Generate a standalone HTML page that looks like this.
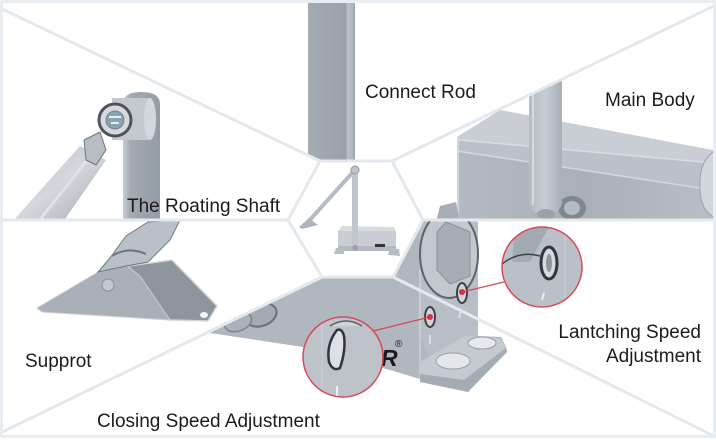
<!DOCTYPE html>
<html>
<head>
<meta charset="utf-8">
<style>
  html,body{margin:0;padding:0;background:#fff;}
  svg{display:block;}
  text{font-family:"Liberation Sans","Helvetica Neue",Arial,sans-serif;}
</style>
</head>
<body>
<svg width="716" height="440" viewBox="0 0 716 440" xmlns="http://www.w3.org/2000/svg">
  <defs>
    <clipPath id="cTL"><polygon points="0,8 320,161 288,220 0,220"/></clipPath>
    <clipPath id="cTop"><polygon points="0,0 716,0 716,5 392,161 320,161 0,8"/></clipPath>
    <clipPath id="cTR"><polygon points="716,5 716,220 423,220 392,161"/></clipPath>
    <clipPath id="cBRB">
      <polygon points="716,220 716,437 393,277 423,220"/>
      <polygon points="0,440 716,440 716,437 393,277 322,277 0,433"/>
    </clipPath>
    <clipPath id="cBL"><polygon points="0,220 288,220 322,277 0,433"/></clipPath>
    <clipPath id="cHex"><polygon points="320,161 392,161 423,220 393,277 322,277 288,220"/></clipPath>
    <clipPath id="cC1"><circle cx="343" cy="357" r="40"/></clipPath>
    <clipPath id="cC2"><circle cx="542" cy="267" r="40"/></clipPath>

    <linearGradient id="gArm" x1="0" y1="0" x2="1" y2="0">
      <stop offset="0" stop-color="#c9ced4"/>
      <stop offset="0.2" stop-color="#a3aab2"/>
      <stop offset="1" stop-color="#959ca5"/>
    </linearGradient>
    <linearGradient id="gRod" x1="0" y1="0" x2="1" y2="1">
      <stop offset="0" stop-color="#b9bfc6"/>
      <stop offset="0.5" stop-color="#d4d8dd"/>
      <stop offset="1" stop-color="#a2a9b1"/>
    </linearGradient>
    <linearGradient id="gBar" x1="0" y1="0" x2="1" y2="0">
      <stop offset="0" stop-color="#a4abb3"/>
      <stop offset="0.8" stop-color="#9aa1a9"/>
      <stop offset="0.85" stop-color="#bcc2c8"/>
      <stop offset="0.95" stop-color="#aeb4bb"/>
      <stop offset="1" stop-color="#9aa1a9"/>
    </linearGradient>
    <linearGradient id="gFront" x1="0" y1="0" x2="1" y2="0">
      <stop offset="0" stop-color="#b3bac1"/>
      <stop offset="0.5" stop-color="#a9b0b8"/>
      <stop offset="1" stop-color="#b8bec5"/>
    </linearGradient>
    <linearGradient id="gMainRod" x1="0" y1="0" x2="1" y2="0">
      <stop offset="0" stop-color="#b4bbc2"/>
      <stop offset="0.5" stop-color="#c6ccd2"/>
      <stop offset="1" stop-color="#a8afb7"/>
    </linearGradient>
  </defs>

  <rect width="716" height="440" fill="#ffffff"/>

  <!-- ===== Top-left: Rotating shaft ===== -->
  <g clip-path="url(#cTL)">
    <!-- vertical arm -->
    <path d="M123,104 Q123,92 141,92 Q160,92 160,104 L160,222 L123,222 Z" fill="url(#gArm)"/>
    <!-- cylinder -->
    <rect x="112" y="98" width="38" height="42" fill="#c3c9cf"/>
    <ellipse cx="150" cy="119" rx="6" ry="21" fill="#d3d8dc"/>
    <!-- rod -->
    <polygon points="80,146 106,160 63,222 12,222" fill="url(#gRod)"/>
    <line x1="92" y1="154" x2="38" y2="222" stroke="#dfe3e7" stroke-width="3"/>
    <!-- clip pieces -->
    <polygon points="84,140 100,132 106,150 96,165 86,160" fill="#b7bdc3" stroke="#6f767d" stroke-width="1"/>
    <!-- knuckle ring -->
    <circle cx="115" cy="120" r="16" fill="#d6dadf" stroke="#4e545a" stroke-width="3"/>
    <circle cx="115" cy="120" r="9" fill="#89a3b3" stroke="#7a8288" stroke-width="1"/>
    <path d="M109,117 L121,117 M111,123 L119,123" stroke="#e8eef2" stroke-width="2"/>
  </g>

  <!-- ===== Top: Connect Rod ===== -->
  <g clip-path="url(#cTop)">
    <rect x="308" y="0" width="47" height="160" fill="url(#gBar)"/>
  </g>

  <!-- ===== Top-right: Main Body ===== -->
  <g clip-path="url(#cTR)">
    <!-- top face -->
    <polygon points="457,137 500,110 713,150 713,163 460,140" fill="#c8ced4"/>
    <!-- chamfer band -->
    <polygon points="457,140 713,163 713,190 457,151" fill="#bac1c8"/>
    <!-- front face -->
    <polygon points="457,151 713,190 713,222 457,222" fill="url(#gFront)"/>
    <line x1="457" y1="151" x2="713" y2="190" stroke="#d3d8dd" stroke-width="1.5"/>
    <line x1="460" y1="140" x2="713" y2="163" stroke="#d8dde1" stroke-width="1.5"/>
    <!-- left edge -->
    <line x1="458" y1="138" x2="458" y2="220" stroke="#d0d5da" stroke-width="2"/>
    <!-- end cap -->
    <path d="M716,150 Q698,160 700,190 Q701,212 716,218 Z" fill="#d2d7db" stroke="#9aa1a8" stroke-width="1"/>
    <!-- bracket bits -->
    <polygon points="440,206 456,202 460,222 436,222" fill="#a7aeb5"/>
    <!-- washer -->
    <ellipse cx="572" cy="208" rx="14" ry="12" fill="#7f878f"/>
    <ellipse cx="572" cy="208" rx="8" ry="7" fill="#b5bcc3"/>
    <!-- connect rod on body -->
    <path d="M529,70 L562,70 L562,203 Q560,214 546,215 Q530,214 529,203 Z" fill="url(#gMainRod)"/>
    <line x1="533" y1="80" x2="533" y2="205" stroke="#d5dade" stroke-width="2"/>
    <ellipse cx="546" cy="214" rx="9" ry="5" fill="#9aa1a8"/>
  </g>

  <!-- ===== Bottom + Bottom-right: body end ===== -->
  <g clip-path="url(#cBRB)">
    <!-- main gray mass -->
    <polygon points="150,320 322,250 420,200 478,200 478,336 501,337 507,349 468,392 420,379 390,370 303,347 210,333" fill="#b0b7bf"/>
    <!-- upper plate region (right) -->
    <polygon points="420,200 478,200 478,336 430,360 418,330" fill="#b7bec5"/>
    <!-- face edge -->
    <line x1="420" y1="270" x2="420" y2="378" stroke="#cdd2d7" stroke-width="1.5"/>
    <!-- big oval ring + hex -->
    <ellipse cx="449" cy="254" rx="29" ry="44" fill="#c2c8ce" stroke="#5d646b" stroke-width="2"/>
    <polygon points="446,222 470,232 470,276 450,284 437,270 437,232" fill="#a6adb5" stroke="#8a9299" stroke-width="1"/>
    <!-- lens ring left -->
    <ellipse cx="261" cy="315" rx="16" ry="11" fill="#a3aab2" stroke="#6a7178" stroke-width="2" transform="rotate(-20 261 315)"/>
    <ellipse cx="238" cy="322" rx="14" ry="9" fill="#aab1b8" stroke="#7e858c" stroke-width="1.5" transform="rotate(-20 238 322)"/>
    <!-- foot -->
    <polygon points="420,362 465,336 500,338 506,348 464,380 420,374" fill="#c4cad0"/>
    <polygon points="420,374 464,380 506,348 507,352 468,392 420,382" fill="#a4abb3"/>
    <ellipse cx="482" cy="343" rx="14" ry="6" fill="#e6e9ec" stroke="#979ea5" stroke-width="1"/>
    <ellipse cx="453" cy="361" rx="17" ry="8" fill="#e3e7ea" stroke="#979ea5" stroke-width="1"/>
    <!-- slots -->
    <ellipse cx="462" cy="293" rx="5" ry="10" fill="#d0d5d9" stroke="#3c4248" stroke-width="2"/>
    <ellipse cx="430" cy="317" rx="5" ry="10" fill="#d0d5d9" stroke="#3c4248" stroke-width="2"/>
    <path d="M461,310 L459,318 M430,335 L430,344" stroke="#e4e8eb" stroke-width="1.5"/>
    <!-- R logo -->
    <text x="381" y="366" font-size="23" font-weight="bold" font-style="italic" fill="#1a1a1a">R</text>
    <text x="395" y="347" font-size="10" fill="#1a1a1a">®</text>
  </g>

  <!-- ===== Bottom-left: Support ===== -->
  <g clip-path="url(#cBL)">
    <!-- side wall -->
    <polygon points="128,266 172,260 217,306 208,321 170,320" fill="#8e959d" stroke="#d3d8dc" stroke-width="1.5"/>
    <ellipse cx="204" cy="315" rx="4" ry="3" fill="#f2f4f5"/>
    <!-- front plate -->
    <polygon points="37,308 98,272 108,265 126,265 140,276 170,320 42,312" fill="#a9b0b8" stroke="#c9ced3" stroke-width="1"/>
    <circle cx="108" cy="285" r="6" fill="#c3c9cf" stroke="#8a9299" stroke-width="1"/>
    <!-- hinge -->
    <polygon points="98,272 110,258 126,236 148,222 180,220 170,240 148,262 126,266" fill="#bac0c7" stroke="#727980" stroke-width="1"/>
    <path d="M112,256 Q128,246 146,254" stroke="#6e757c" stroke-width="2" fill="none"/>
  </g>

  <!-- ===== Center hexagon: small door closer ===== -->
  <g clip-path="url(#cHex)">
    <line x1="353" y1="172" x2="308" y2="222" stroke="#b6bcc3" stroke-width="4"/>
    <polygon points="299,227 309,218 318,225 302,229" fill="#aeb5bc"/>
    <polygon points="338,231 342,226 394,227 396,232" fill="#d7dce0"/>
    <rect x="338" y="231" width="58" height="20" fill="#c8ced4"/>
    <rect x="338" y="246" width="58" height="5" fill="#b3bac1"/>
    <rect x="375" y="244" width="10" height="3" fill="#333"/>
    <polygon points="390,248 399,249 400,256 388,255" fill="#b5bcc3"/>
    <polygon points="336,248 344,248 344,254 334,254" fill="#b5bcc3"/>
    <rect x="352" y="170" width="6" height="80" fill="#c0c6cc"/>
    <circle cx="355" cy="170" r="4" fill="#bfc5cb" stroke="#8e959c" stroke-width="1"/>
    <circle cx="355" cy="248" r="3" fill="#9aa1a8"/>
  </g>

  <!-- ===== Divider lines ===== -->
  <g stroke="#e3e9ee" stroke-width="3" fill="none" stroke-linejoin="round">
    <polygon points="320,161 392,161 423,220 393,277 322,277 288,220"/>
    <line x1="0" y1="8" x2="320" y2="161"/>
    <line x1="392" y1="161" x2="716" y2="5"/>
    <line x1="423" y1="220" x2="716" y2="220"/>
    <line x1="0" y1="220" x2="288" y2="220"/>
    <line x1="393" y1="277" x2="716" y2="437"/>
    <line x1="322" y1="277" x2="0" y2="433"/>
    <rect x="1.5" y="1.5" width="713" height="435" stroke="#e8edf1"/>
  </g>

  <!-- ===== Zoom circles ===== -->
  <!-- closing speed -->
  <g clip-path="url(#cC1)">
    <rect x="300" y="315" width="90" height="90" fill="#bdc3c9"/>
    <path d="M330,326 Q346,316 362,326" stroke="#5a6168" stroke-width="1.5" fill="#cfd4d8"/>
    <path d="M337,330 Q326,344 329,362 Q333,372 340,368 Q346,350 344,336 Q342,328 337,330 Z" fill="#dde1e4" stroke="#30363c" stroke-width="2.5"/>
    <path d="M337,386 L337,398" stroke="#eef0f2" stroke-width="2"/>
    <line x1="322" y1="318" x2="322" y2="400" stroke="#cdd2d6" stroke-width="1"/>
  </g>
  <circle cx="343" cy="357" r="40" fill="none" stroke="#d84a5c" stroke-width="1.5"/>
  <line x1="373" y1="331" x2="430" y2="317" stroke="#d84a5c" stroke-width="1.3"/>
  <circle cx="430" cy="317" r="3" fill="#d8304a"/>

  <!-- latching speed -->
  <g clip-path="url(#cC2)">
    <rect x="500" y="225" width="85" height="85" fill="#b9c0c7"/>
    <polygon points="515,225 550,225 530,262 512,262" fill="#a3aab2"/>
    <path d="M502,264 Q520,250 540,256" stroke="#3f454b" stroke-width="1.5" fill="none"/>
    <ellipse cx="549" cy="263" rx="8" ry="16" fill="#d5dadd" stroke="#30363c" stroke-width="3"/>
    <ellipse cx="549" cy="263" rx="3" ry="9" fill="#8e959c"/>
    <line x1="565" y1="228" x2="565" y2="306" stroke="#cdd2d6" stroke-width="1"/>
    <path d="M544,293 L542,300" stroke="#eef0f2" stroke-width="2"/>
  </g>
  <circle cx="542" cy="267" r="40" fill="none" stroke="#d84a5c" stroke-width="1.5"/>
  <line x1="504" y1="282" x2="462" y2="292" stroke="#d84a5c" stroke-width="1.3"/>
  <circle cx="462" cy="292" r="3" fill="#d8304a"/>

  <!-- ===== Labels ===== -->
  <g fill="#1c1c1c" font-size="19">
    <text x="365" y="98">Connect Rod</text>
    <text x="605" y="106">Main Body</text>
    <text x="127" y="212">The Roating Shaft</text>
    <text x="25" y="367">Supprot</text>
    <text x="97" y="427">Closing Speed Adjustment</text>
    <text x="701" y="338" text-anchor="end">Lantching Speed</text>
    <text x="701" y="362" text-anchor="end">Adjustment</text>
  </g>
</svg>
</body>
</html>
